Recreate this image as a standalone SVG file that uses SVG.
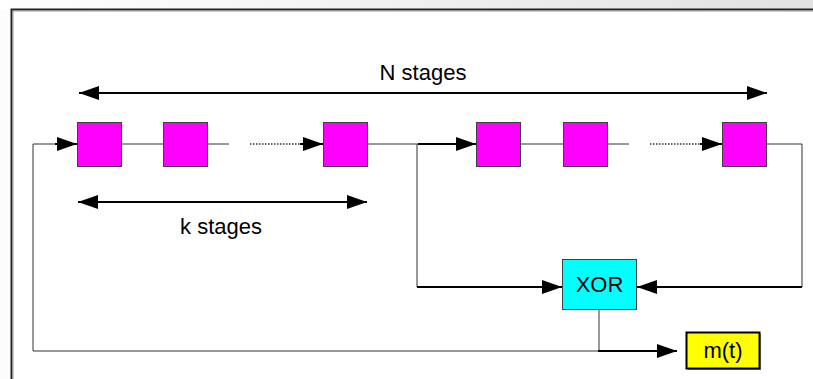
<svg xmlns="http://www.w3.org/2000/svg" width="813" height="379" viewBox="0 0 813 379">
<defs>
<linearGradient id="bg" x1="0" y1="0" x2="1" y2="0">
<stop offset="0" stop-color="#ffffff"/>
<stop offset="1" stop-color="#e2e2e2"/>
</linearGradient>
<marker id="ah" viewBox="0 0 20 14" refX="20" refY="7" markerWidth="20" markerHeight="14" markerUnits="userSpaceOnUse" orient="auto-start-reverse">
<path d="M0,0 L20,7 L0,14 Z" fill="#000"/>
</marker>
</defs>
<style>
.reg{fill:#ff00ff;stroke:#404040;stroke-width:1}
.thin{fill:none;stroke:#333;stroke-width:1}
.thick{fill:none;stroke:#000;stroke-width:2}
.dot{fill:none;stroke:#333;stroke-width:1.5;stroke-dasharray:1.5 1.5}
.lbl{font-family:"Liberation Sans",Arial,sans-serif;font-size:22px;fill:#000}
</style>
<rect x="0" y="0" width="813" height="379" fill="#fff"/>
<rect x="0" y="0" width="813" height="10" fill="url(#bg)"/>
<rect x="0" y="10" width="11" height="369" fill="#fcfcfc"/>
<path d="M11.5,379 V9.5 H813" fill="none" stroke="#222" stroke-width="2"/>
<path d="M13,379 V11 H813" fill="none" stroke="#999" stroke-width="1"/>

<g id="connectors">
<path class="thick" d="M79,93 H767" marker-start="url(#ah)" marker-end="url(#ah)"/>
<path class="thick" d="M78,202 H367" marker-start="url(#ah)" marker-end="url(#ah)"/>
<path class="thin" d="M121,144 H163"/>
<path class="thin" d="M208,144 H229"/>
<path class="dot" d="M250,144 H306"/>
<path class="thick" d="M300,144 H323" marker-end="url(#ah)"/>
<path class="thin" d="M33,351 V144 H57"/>
<path class="thick" d="M55,144 H77" marker-end="url(#ah)"/>
<path class="thin" d="M368,144 H420"/>
<path class="thick" d="M418,144 H476" marker-end="url(#ah)"/>
<path class="thin" d="M417,144 V287"/>
<path class="thick" d="M417,287 H562" marker-end="url(#ah)"/>
<path class="thin" d="M520,144 H563"/>
<path class="thin" d="M607,144 H629"/>
<path class="dot" d="M650,144 H706"/>
<path class="thick" d="M700,144 H722" marker-end="url(#ah)"/>
<path class="thin" d="M767,144 H802 V287"/>
<path class="thick" d="M802,287 H637" marker-end="url(#ah)"/>
<path class="thin" d="M599,309 V351"/>
<path class="thin" d="M33,351 H599"/>
<path class="thick" d="M598,351 H677" marker-end="url(#ah)"/>
</g>

<g id="label-n"><text class="lbl" x="423" y="80" text-anchor="middle">N stages</text></g>
<g id="label-k"><text class="lbl" x="221" y="234" text-anchor="middle">k stages</text></g>

<g id="reg1"><rect class="reg" x="77.5" y="122.5" width="44" height="44"/></g>
<g id="reg2"><rect class="reg" x="163.5" y="122.5" width="44" height="44"/></g>
<g id="reg3"><rect class="reg" x="323.5" y="122.5" width="44" height="44"/></g>
<g id="reg4"><rect class="reg" x="476.5" y="122.5" width="44" height="44"/></g>
<g id="reg5"><rect class="reg" x="563.5" y="122.5" width="44" height="44"/></g>
<g id="reg6"><rect class="reg" x="722.5" y="122.5" width="44" height="44"/></g>

<g id="xor">
<rect x="562.5" y="259.5" width="74" height="50" fill="#00ffff" stroke="#404040" stroke-width="1"/>
<text class="lbl" x="599.5" y="292" text-anchor="middle">XOR</text>
</g>

<g id="mt">
<rect x="688" y="334" width="73" height="36" fill="#888"/>
<rect x="686.5" y="332.5" width="73" height="36" fill="#ffff00" stroke="#000" stroke-width="2"/>
<text class="lbl" x="723" y="358" text-anchor="middle">m(t)</text>
</g>
</svg>
